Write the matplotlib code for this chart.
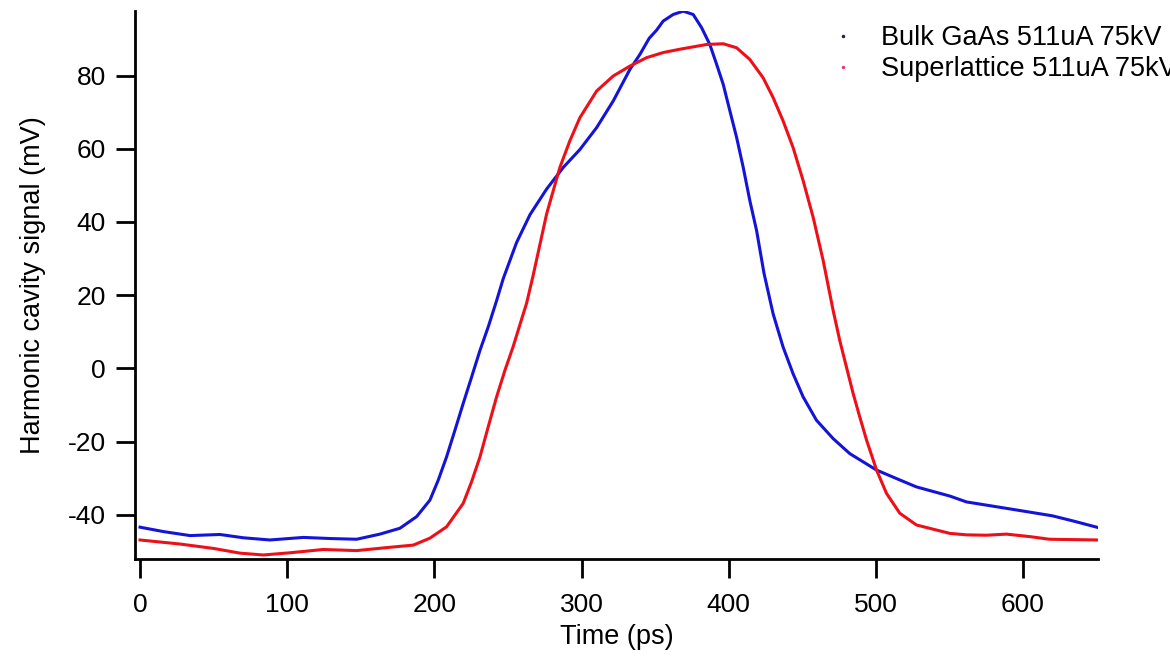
import matplotlib
matplotlib.use("Agg")
import matplotlib.pyplot as plt

plt.rcParams['font.family'] = ['Liberation Sans', 'DejaVu Sans']
plt.rcParams['axes.unicode_minus'] = False

# Bulk GaAs 511uA 75kV (time in ps, signal in mV)
t_bulk = [0, 15.8, 34, 54.3, 70.2, 88.3, 111, 129, 147.2, 163, 176.6, 188, 197, 202.7,
          208.3, 214, 219.6, 225.3, 231, 236.6, 242.3, 246.8, 255.9, 265, 276.3, 287.6,
          298.9, 310.3, 321.6, 332.9, 339.7, 346, 351, 355.5, 362.3, 369.1, 375.9, 381.6,
          387.2, 391.8, 396.3, 400.8, 405.4, 409.9, 414.4, 419, 424, 430.2, 437, 443.8,
          450.6, 459.7, 471, 482.3, 500.5, 516.3, 527.6, 550.3, 561.6, 595.6, 620, 635, 651]
v_bulk = [-43.4, -44.6, -45.7, -45.4, -46.3, -46.9, -46.2, -46.5, -46.7, -45.3, -43.7,
          -40.5, -36.0, -30.5, -24.2, -16.9, -9.6, -2.4, 4.9, 11.3, 18.5, 24.5, 34.4, 42.0,
          49.0, 54.9, 59.8, 65.8, 73.1, 81.7, 85.8, 90.2, 92.4, 94.9, 96.7, 97.6, 96.7,
          93.1, 88.5, 83.1, 77.6, 70.4, 63.1, 54.9, 45.8, 37.6, 26.0, 14.9, 5.8, -1.5,
          -7.8, -14.2, -19.2, -23.3, -27.8, -30.5, -32.4, -34.9, -36.5, -38.7, -40.3,
          -41.8, -43.5]

# Superlattice 511uA 75kV
t_sl = [0, 27, 49.8, 68, 83.8, 101.9, 124.5, 147.2, 169.8, 185.7, 197, 208.3, 219.6,
        225.3, 231, 236.6, 242.3, 248, 253.6, 258.2, 262.7, 267.2, 276.3, 285.3, 292.1,
        298.9, 310.3, 321.6, 332.9, 344.2, 355.5, 366.8, 385, 396.3, 405.4, 414.4, 423.4,
        430.2, 437, 443.8, 450.6, 457.4, 464.2, 471, 475.5, 480, 484.6, 489.1, 493.7,
        500.5, 507.3, 516.3, 527.6, 550.3, 561.6, 575, 588.8, 605, 618, 651]
v_sl = [-46.9, -48.0, -49.2, -50.5, -51.0, -50.4, -49.5, -49.8, -48.9, -48.3, -46.4,
        -43.3, -36.9, -31.0, -24.2, -16.0, -7.8, -0.5, 6.0, 12.0, 17.8, 25.5, 42.2, 54.9,
        62.2, 68.5, 75.8, 79.9, 82.6, 84.9, 86.3, 87.2, 88.5, 88.7, 87.6, 84.4, 79.4,
        74.0, 67.6, 60.3, 51.3, 41.3, 29.5, 15.8, 7.6, 0.4, -6.9, -13.3, -19.6, -27.8,
        -34.2, -39.6, -42.8, -45.1, -45.5, -45.6, -45.3, -46.0, -46.7, -46.9]

blue = "#1414d8"
red = "#ee1018"

fig = plt.figure(figsize=(11.7, 6.58), dpi=100)
ax = fig.add_axes([0.1154, 0.151, 0.8231, 0.832])

ax.plot(t_bulk, v_bulk, color=blue, linewidth=2.2, label="Bulk GaAs 511uA 75kV")
ax.plot(t_sl, v_sl, color=red, linewidth=2.2, label="Superlattice 511uA 75kV")

ax.set_xlim(-3.4, 651)
ax.set_ylim(-52, 97.6)
ax.set_xticks([0, 100, 200, 300, 400, 500, 600])
ax.set_yticks([-40, -20, 0, 20, 40, 60, 80])

for s in ["top", "right"]:
    ax.spines[s].set_visible(False)
for s in ["left", "bottom"]:
    ax.spines[s].set_linewidth(2)
ax.tick_params(direction="out", length=13.5, width=2, labelsize=19)
ax.tick_params(axis="x", pad=11)
ax.tick_params(axis="y", pad=7.5)

ax.set_xlabel("Time (ps)", fontsize=19.5, labelpad=5)
ax.set_ylabel("Harmonic cavity signal (mV)", fontsize=19.5, labelpad=16)

# legend: tiny dots, text runs past the right edge as in the original
leg = ax.legend(loc="upper left", bbox_to_anchor=(0.7137, 0.962), bbox_transform=fig.transFigure,
                frameon=False, fontsize=19.5, handlelength=0.6, handletextpad=1.1,
                labelspacing=0.2, borderaxespad=0, borderpad=0)
for h, c in zip(leg.legend_handles, ["#202050", "#e04070"]):
    h.set_linestyle("none")
    h.set_marker(".")
    h.set_markersize(3)
    h.set_color(c)

fig.savefig("out.png", dpi=100)
